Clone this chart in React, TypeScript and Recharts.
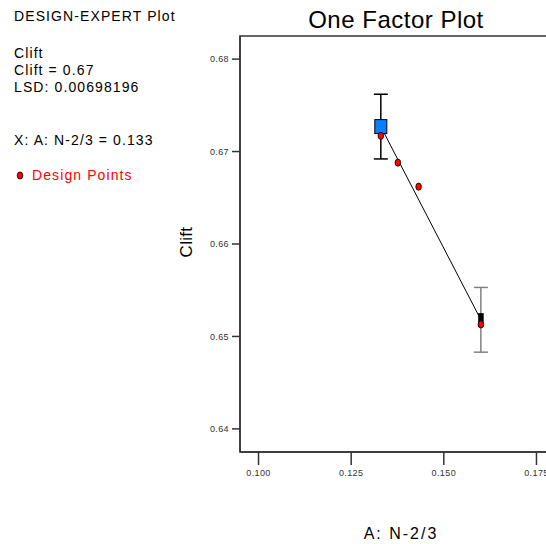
import { ComposedChart, Line, Scatter, XAxis, YAxis, ErrorBar, ReferenceArea } from "recharts";

// factor levels (A: N-2/3) and predicted Clift at each
const factorLevels = [0.133, 0.16];
const predictedClift = [0.6727, 0.6518];
const lsdHalf = [0.0035, 0.0035];

// actual design points
const designX = [0.133, 0.1376, 0.1432, 0.16];
const designY = [0.6717, 0.6688, 0.6662, 0.6513];

const xTicks = [0.1, 0.125, 0.15, 0.175];
const yTicks = [0.64, 0.65, 0.66, 0.67, 0.68];
const xTickLabels = ["0.100", "0.125", "0.150", "0.175"];

const infoLines = ["Clift", "Clift = 0.67", "LSD: 0.00698196"];

const means = factorLevels.map((x, i) => ({ x, y: predictedClift[i], err: lsdHalf[i] }));
const points = designX.map((x, i) => ({ x, y: designY[i] }));

const font = "'Liberation Sans', Arial, sans-serif";

const BlueSquare = (p: any) => (
  <rect x={p.cx - 6} y={p.cy - 7} width={12} height={14} fill="#0a80ff" stroke="#000" strokeWidth={1} />
);
const BlackBar = (p: any) => (
  <rect x={p.cx - 2.5} y={p.cy - 6.5} width={5} height={13} fill="#000" stroke="#000" strokeWidth={0.5} />
);
const RedDot = (p: any) => (
  <ellipse cx={p.cx} cy={p.cy} rx={2.8} ry={3.6} fill="#ff0000" stroke="#000" strokeWidth={0.8} />
);

export default function App() {
  const tickStyle = { fontSize: 9, fill: "#333", fontFamily: font, letterSpacing: 0.4 };
  return (
    <div style={{ position: "absolute", left: 0, top: 0, width: 546, height: 544, overflow: "hidden", background: "#fff" }}>
      <ComposedChart width={570} height={544} margin={{ top: 36, right: 15, bottom: 62, left: 180 }}>
        <XAxis
          dataKey="x"
          type="number"
          domain={[0.095, 0.18]}
          ticks={xTicks}
          tickFormatter={(v: number) => xTickLabels[xTicks.indexOf(v)] ?? String(v)}
          tick={tickStyle}
          tickSize={13}
          tickMargin={5}
          height={30}
          stroke="#333"
          strokeWidth={1.5}
          allowDataOverflow
        />
        <YAxis
          dataKey="y"
          type="number"
          domain={[0.6375, 0.6825]}
          ticks={yTicks}
          tick={tickStyle}
          tickSize={8}
          tickMargin={3}
          width={60}
          stroke="#333"
          strokeWidth={1.5}
          allowDataOverflow
        />
        <ReferenceArea x1={0.095} x2={0.18} y1={0.6375} y2={0.6825} fill="none" stroke="#333" strokeWidth={1.5} />
        <Line data={means} dataKey="y" stroke="#000" strokeWidth={1} dot={false} isAnimationActive={false} />
        <Scatter data={[means[0]]} shape={BlueSquare} isAnimationActive={false}>
          <ErrorBar dataKey="err" direction="y" width={7} stroke="#000" strokeWidth={1.5} isAnimationActive={false} />
        </Scatter>
        <Scatter data={[means[1]]} shape={BlackBar} isAnimationActive={false}>
          <ErrorBar dataKey="err" direction="y" width={7} stroke="#808080" strokeWidth={1.5} isAnimationActive={false} />
        </Scatter>
        <Scatter data={points} shape={RedDot} isAnimationActive={false} />
      </ComposedChart>
      <svg width={546} height={544} style={{ position: "absolute", left: 0, top: 0, pointerEvents: "none" }} fontFamily={font}>
        <text x={14} y={20.5} fontSize={14} letterSpacing={1.1} fill="#000">DESIGN-EXPERT Plot</text>
        {infoLines.map((t, i) => (
          <text key={t} x={14} y={58 + i * 16.8} fontSize={14} letterSpacing={1.1} fill="#000">{t}</text>
        ))}
        <text x={14} y={145} fontSize={14} letterSpacing={1.1} fill="#000">X: A: N-2/3 = 0.133</text>
        <ellipse cx={20} cy={175.5} rx={2.8} ry={3.6} fill="#ff0000" stroke="#000" strokeWidth={0.8} />
        <text x={32} y={180} fontSize={14} letterSpacing={1.1} fill="#ff0000">Design Points</text>
        <text x={396} y={28} fontSize={24} letterSpacing={0.5} textAnchor="middle" fill="#000">One Factor Plot</text>
        <text x={401} y={539} fontSize={16} letterSpacing={2} textAnchor="middle" fill="#000">A: N-2/3</text>
        <text x={192} y={242} fontSize={17} letterSpacing={0.3} textAnchor="middle" fill="#000" transform="rotate(-90, 192, 242)">Clift</text>
      </svg>
    </div>
  );
}
